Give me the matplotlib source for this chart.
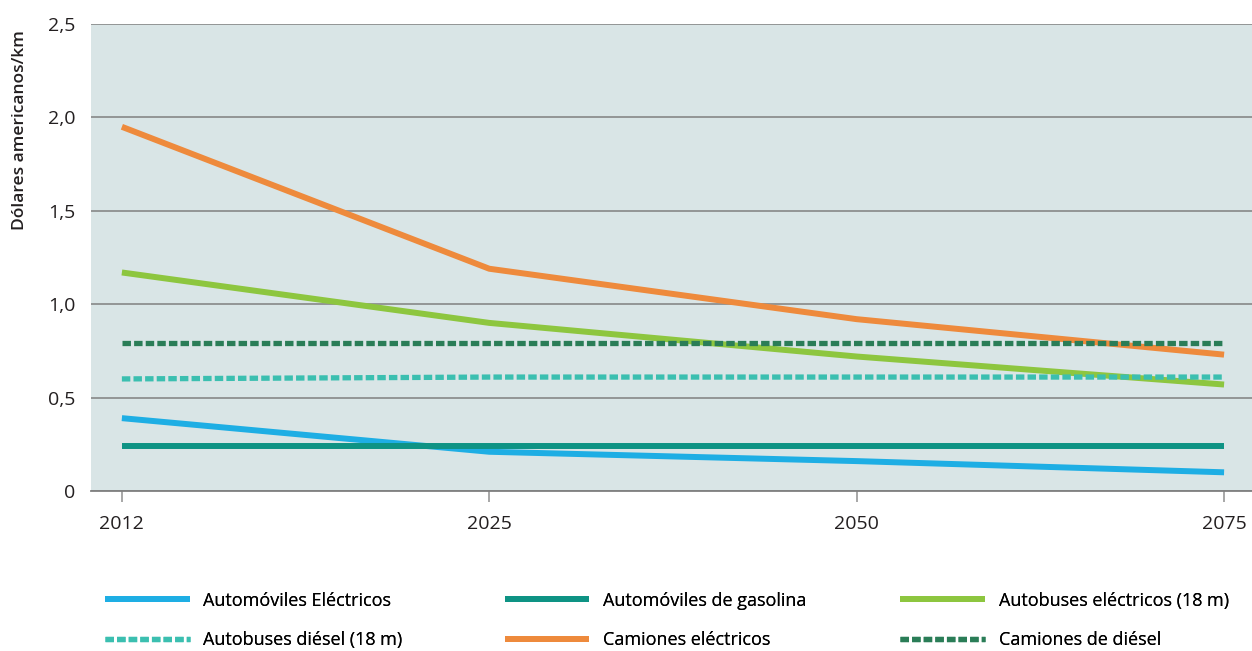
import numpy as np
import matplotlib.pyplot as plt

years = ['2012', '2025', '2050', '2075']
autos_elec = [0.39, 0.21, 0.16, 0.10]
autos_gas = [0.24, 0.24, 0.24, 0.24]
buses_elec = [1.17, 0.90, 0.72, 0.57]
buses_diesel = [0.60, 0.61, 0.61, 0.61]
camiones_elec = [1.95, 1.19, 0.92, 0.73]
camiones_diesel = [0.79, 0.79, 0.79, 0.79]
yticks = [0, 0.5, 1.0, 1.5, 2.0, 2.5]
ytick_labels = ['0', '0,5', '1,0', '1,5', '2,0', '2,5']

plt.rcParams['font.family'] = ['Open Sans', 'DejaVu Sans']
fig = plt.figure(figsize=(12.52, 6.51), dpi=100)
ax = fig.add_axes([0.0727, 0.2458, 0.9273, 0.7172])
ax.set_facecolor('#d9e5e6')

x = np.arange(len(years))
dot = (0, (1.6, 0.6))
series = [
    ('Automóviles Eléctricos', autos_elec, '#1eaee4', '-'),
    ('Automóviles de gasolina', autos_gas, '#0e9384', '-'),
    ('Autobuses eléctricos (18 m)', buses_elec, '#8dc63f', '-'),
    ('Autobuses diésel (18 m)', buses_diesel, '#3bbfb0', dot),
    ('Camiones eléctricos', camiones_elec, '#ee8a3c', '-'),
    ('Camiones de diésel', camiones_diesel, '#2a7d57', dot),
]
handles = {}
for name, vals, col, ls in series:
    w = 3.8 if ls != '-' else 4.3
    l, = ax.plot(x, vals, color=col, linestyle=ls, linewidth=w,
                 solid_capstyle='butt', dash_capstyle='butt', label=name)
    handles[name] = l

ax.set_xlim(-0.084, 3.076)
ax.set_ylim(0, 2.5)
ax.set_yticks(yticks)
ax.set_yticklabels(ytick_labels)
ax.set_xticks(x)
ax.set_xticklabels(years)
ax.grid(axis='y', color='#808080', linewidth=1.1)
ax.set_axisbelow(True)
for s in ['top', 'right', 'left']:
    ax.spines[s].set_visible(False)
ax.spines['bottom'].set_color('#808080')
ax.spines['bottom'].set_linewidth(1.3)
ax.tick_params(axis='y', length=0, pad=11, labelsize=14, labelcolor='#231f20')
ax.tick_params(axis='x', length=8, width=1.3, color='#a0a0a0', pad=9,
               labelsize=14, labelcolor='#231f20')
ax.set_ylabel('Dólares americanos/km', fontsize=12.5, fontweight='semibold', color='#231f20')
ax.yaxis.set_label_coords(-0.061, 0.773)
ax.yaxis.label.set_verticalalignment('center')

cols = [['Automóviles Eléctricos', 'Autobuses diésel (18 m)'],
        ['Automóviles de gasolina', 'Camiones eléctricos'],
        ['Autobuses eléctricos (18 m)', 'Camiones de diésel']]
xpos = [0.0839, 0.403, 0.719]
for cx, names in zip(xpos, cols):
    leg = fig.legend([handles[n] for n in names], names, loc='upper left',
                     bbox_to_anchor=(cx, 0.091), frameon=False, fontsize=13,
                     handlelength=4.7, handletextpad=0.75, labelspacing=1.2,
                     borderaxespad=0, borderpad=0)
    fig.add_artist(leg)

fig.savefig('out.png', dpi=100)
